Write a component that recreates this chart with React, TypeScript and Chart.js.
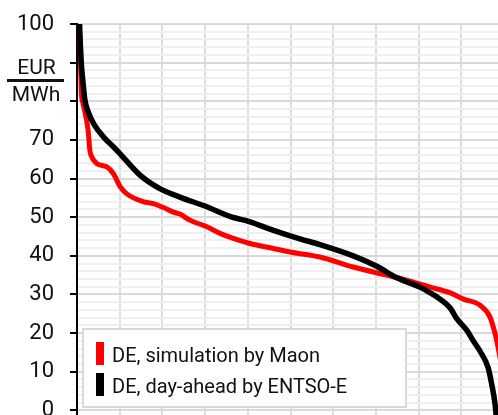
import React, { useEffect, useRef } from 'react';
import { Chart, registerables } from 'chart.js';

Chart.register(...registerables);

// ---- data (x = share of hours, %, y = EUR/MWh) ----
const seriesLabels = ['DE, simulation by Maon', 'DE, day-ahead by ENTSO-E'];
const seriesColors = ['#ff0000', '#000000'];

const simX = [0, 0.7, 1.05, 1.4, 1.9, 2.6, 3.0, 3.3, 4.6, 7.0, 8.5, 10.1, 11.6, 15.5, 17.9, 20.2, 22.6, 24.1, 26.5, 30.4, 33.5, 36.6, 40.5, 46.0, 49.9, 56.9, 64.7, 72.5, 77.2, 82.7, 87.4, 90.5, 94.4, 96.7, 97.9, 98.6, 100];
const simY = [115, 95, 82, 79.5, 77, 72.5, 67.4, 66, 63.9, 63.0, 61.3, 57.9, 56.1, 54.0, 53.5, 52.5, 51.3, 50.8, 49.2, 47.5, 45.8, 44.5, 43.2, 41.9, 41.0, 39.7, 37.1, 35.0, 33.7, 31.9, 30.4, 28.8, 27.2, 24.2, 19.9, 16.4, 8];

const daX = [0, 0.6, 1.0, 1.4, 1.8, 2.6, 4.1, 6.5, 8.8, 10.1, 14.75, 19.4, 24.1, 30.4, 35.8, 40.5, 46.0, 52.2, 56.9, 64.7, 70.2, 74.9, 80.3, 82.6, 85.0, 87.4, 88.9, 91.3, 92.8, 94.4, 96.3, 97.1, 97.9, 98.2, 98.7];
const daY = [130, 100, 90, 85, 80.7, 77.3, 73.8, 70.4, 67.9, 66.4, 60.9, 57.4, 55.2, 52.7, 50.2, 48.8, 46.6, 44.4, 42.9, 40.0, 37.3, 34.3, 31.9, 30.5, 28.8, 26.5, 23.8, 20.7, 18.0, 15.3, 11.0, 6.9, 1.7, -2, -12];

const yLabelValues = [100, 70, 60, 50, 40, 30, 20, 10, 0];
const unitTop = 'EUR';
const unitBottom = 'MWh';

const Y_MIN = -10;
const Y_MAX = 100;
const Y_STEP = 2;
const Y_MAJOR = 10;
const X_MIN = 0;
const X_MAX = 100;
const X_STEP = 10;

const toPoints = (xs: number[], ys: number[]) => xs.map((x, i) => ({ x, y: ys[i] }));

const decorPlugin = {
  id: 'decor',
  afterDraw(chart: any) {
    const ctx = chart.ctx as CanvasRenderingContext2D;
    const area = chart.chartArea;
    ctx.save();
    // unit fraction
    ctx.fillStyle = '#111';
    ctx.font = '21px Roboto';
    ctx.textAlign = 'center';
    ctx.textBaseline = 'alphabetic';
    ctx.fillText(unitTop, 36.5, 74);
    ctx.fillRect(7, 79, 57, 3);
    ctx.fillText(unitBottom, 36, 101);

    // legend box
    const bx = area.left + 5;
    const by = 328;
    ctx.fillStyle = '#ffffff';
    ctx.fillRect(bx, by, 325, 80);
    ctx.strokeStyle = '#d9d9d9';
    ctx.lineWidth = 2;
    ctx.strokeRect(bx + 1, by + 1, 323, 78);
    ctx.textAlign = 'left';
    ctx.font = '20px Roboto';
    chart.data.datasets
      .map((d: any, i: number) => ({ d, i }))
      .sort((a: any, b: any) => seriesLabels.indexOf(a.d.label) - seriesLabels.indexOf(b.d.label))
      .forEach(({ d }: any, k: number) => {
        const rowY = by + 14 + k * 31;
        ctx.fillStyle = d.borderColor;
        ctx.fillRect(bx + 14, rowY, 8, 23);
        ctx.fillStyle = '#111';
        ctx.fillText(d.label, bx + 30, rowY + 20);
      });
    ctx.restore();
  },
};

export default function App() {
  const ref = useRef<HTMLCanvasElement | null>(null);

  useEffect(() => {
    if (!ref.current) return;
    const isMajor = (v: number) => Math.abs(v % Y_MAJOR) < 1e-9;
    const chart = new Chart(ref.current, {
      type: 'line',
      data: {
        datasets: [
          {
            label: seriesLabels[0],
            data: toPoints(simX, simY),
            borderColor: seriesColors[0],
            backgroundColor: seriesColors[0],
            borderWidth: 5,
            pointRadius: 0,
            cubicInterpolationMode: 'monotone',
            borderJoinStyle: 'round',
            order: 2,
          },
          {
            label: seriesLabels[1],
            data: toPoints(daX, daY),
            borderColor: seriesColors[1],
            backgroundColor: seriesColors[1],
            borderWidth: 5.5,
            pointRadius: 0,
            cubicInterpolationMode: 'monotone',
            borderJoinStyle: 'round',
            order: 1,
          },
        ],
      },
      options: {
        animation: false,
        responsive: false,
        devicePixelRatio: 1,
        layout: { padding: { top: 24, left: 0, right: 0, bottom: 0 } },
        plugins: { legend: { display: false }, tooltip: { enabled: false } },
        scales: {
          x: {
            type: 'linear',
            min: X_MIN,
            max: X_MAX,
            afterBuildTicks: (s: any) => {
              const t = [];
              for (let v = X_MIN; v <= X_MAX; v += X_STEP) t.push({ value: v });
              s.ticks = t;
            },
            afterFit: (s: any) => {
              s.height = 0;
              s.paddingLeft = 0;
              s.paddingRight = 0;
            },
            ticks: { display: false },
            grid: {
              color: (c: any) => (c.tick && c.tick.value === X_MIN ? 'rgba(0,0,0,0)' : '#dcdcdc'),
              lineWidth: 2,
              drawTicks: false,
            },
            border: { display: false },
          },
          y: {
            type: 'linear',
            min: Y_MIN,
            max: Y_MAX,
            afterBuildTicks: (s: any) => {
              const t = [];
              for (let v = Y_MIN; v <= Y_MAX; v += Y_STEP) t.push({ value: v });
              s.ticks = t;
            },
            afterFit: (s: any) => {
              s.width = 77;
              s.paddingTop = 0;
              s.paddingBottom = 0;
            },
            ticks: {
              autoSkip: false,
              padding: 16,
              color: '#111',
              font: { family: 'Roboto', size: 22 },
              callback: (v: any) => (yLabelValues.includes(Number(v)) ? String(v) : ''),
            },
            grid: {
              color: (c: any) => (c.tick && isMajor(c.tick.value) ? '#d9d9d9' : '#efefef'),
              lineWidth: 2,
              tickLength: 7,
              tickWidth: 2,
              tickColor: (c: any) =>
                c.tick && isMajor(c.tick.value) && c.tick.value >= 0 ? '#000000' : 'rgba(0,0,0,0)',
            },
            border: { color: '#000000', width: 2 },
          },
        },
      },
      plugins: [decorPlugin],
    } as any);
    return () => chart.destroy();
  }, []);

  return (
    <div
      style={{
        position: 'fixed',
        left: 0,
        top: 0,
        width: 498,
        height: 415,
        overflow: 'hidden',
        background: '#ffffff',
      }}
    >
      <canvas ref={ref} width={504} height={449} style={{ width: 504, height: 449, display: 'block' }} />
    </div>
  );
}
